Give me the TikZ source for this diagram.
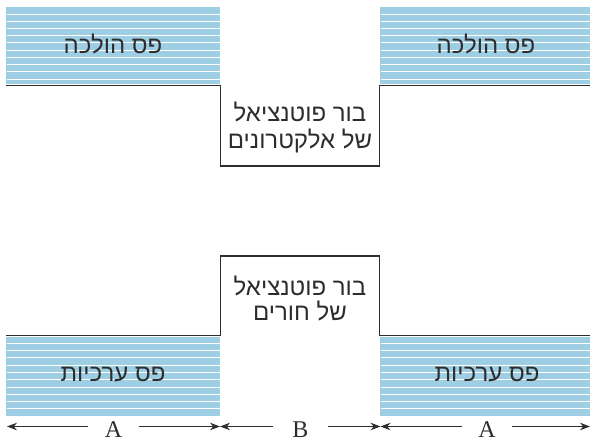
\documentclass[tikz,border=0pt]{standalone}
\usepackage{fontspec}
\setmainfont{Liberation Serif}
\newfontfamily\hebfont[Script=Hebrew]{Liberation Sans}
\TeXXeTstate=1
\usetikzlibrary{arrows.meta}
\definecolor{bandblue}{RGB}{158,206,228}
\definecolor{ink}{RGB}{45,45,45}
\newcommand\heb[1]{\hebfont\beginR #1\endR}

\begin{document}
\begin{tikzpicture}[x=1pt,y=-1pt,
  edge/.style={draw=ink, line width=1.5pt},
  stripe/.style={white, line width=1.3pt},
  bandlabel/.style={text=ink, font=\fontsize{24}{24}\selectfont, anchor=base, inner sep=0pt},
  welllabel/.style={text=ink, align=center, inner sep=0pt},
  dimlabel/.style={text=ink, font=\fontsize{24}{24}\selectfont, anchor=base, inner sep=0pt, text depth=0pt},
  dim/.style={draw=ink, line width=1.1pt, -{Stealth[length=10pt,width=7.5pt]}}]
\useasboundingbox (0,0) rectangle (590,443);

% conduction bands (top) and valence bands (bottom), white-striped
\foreach \xa/\xb in {6/220, 380/590}{
  \fill[bandblue] (\xa,7) rectangle (\xb,84);
  \foreach \ys in {14.5,21.5,28.5,35.5,42.5,50.5,57.5,64.5,71.5,79.5}
    \draw[stripe] (\xa+1,\ys) -- (\xb,\ys);
  \fill[bandblue] (\xa,337) rectangle (\xb,416);
  \foreach \ys in {343.5,350.5,357.5,365.5,372.5,379.5,387.5,394.5,401.5,408.5}
    \draw[stripe] (\xa+1,\ys) -- (\xb,\ys);
}

% band edges with the two potential wells
\coordinate (c0) at (6,85.5);   \coordinate (c1) at (220.5,85.5);
\coordinate (c2) at (220.5,166); \coordinate (c3) at (379.5,166);
\coordinate (c4) at (379.5,85.5); \coordinate (c5) at (590,85.5);
\draw[edge] (c0) -- (c1) -- (c2) -- (c3) -- (c4) -- (c5);

\coordinate (v0) at (6,335.5);   \coordinate (v1) at (220.5,335.5);
\coordinate (v2) at (220.5,256); \coordinate (v3) at (379.5,256);
\coordinate (v4) at (379.5,335.5); \coordinate (v5) at (590,335.5);
\draw[edge] (v0) -- (v1) -- (v2) -- (v3) -- (v4) -- (v5);

% band names
\node[bandlabel] (cbL) at (113,53.5) {\heb{פס הולכה}};
\node[bandlabel] (cbR) at (486,53.5) {\heb{פס הולכה}};
\node[bandlabel] (vbL) at (113,382) {\heb{פס ערכיות}};
\node[bandlabel] (vbR) at (487,382) {\heb{פס ערכיות}};

% well descriptions
\node[welllabel, font=\fontsize{24}{27.5}\selectfont] (ewell) at (300,127.5)
  {\heb{בור פוטנציאל}\\\heb{של אלקטרונים}};
\node[welllabel, font=\fontsize{24}{25}\selectfont] (hwell) at (300,299)
  {\heb{בור פוטנציאל}\\\heb{של חורים}};

% region widths
\coordinate (d0) at (7,426.5);
\coordinate (d1) at (220,426.5);
\coordinate (d2) at (380.5,426.5);
\coordinate (d3) at (590,426.5);
\node[dimlabel, minimum width=51pt] (wA1) at (113.5,437.5) {A};
\node[dimlabel, minimum width=55pt] (wB)  at (300.5,437.5) {B};
\node[dimlabel, minimum width=50pt] (wA2) at (487,437.5) {A};

\draw[dim] (wA1.west |- d0) -- (d0);
\draw[dim] (wA1.east |- d0) -- (d1);
\draw[dim] (wB.west |- d0) -- (d1);
\draw[dim] (wB.east |- d0) -- (d2);
\draw[dim] (wA2.west |- d0) -- (d2);
\draw[dim] (wA2.east |- d0) -- (d3);
\end{tikzpicture}
\end{document}
